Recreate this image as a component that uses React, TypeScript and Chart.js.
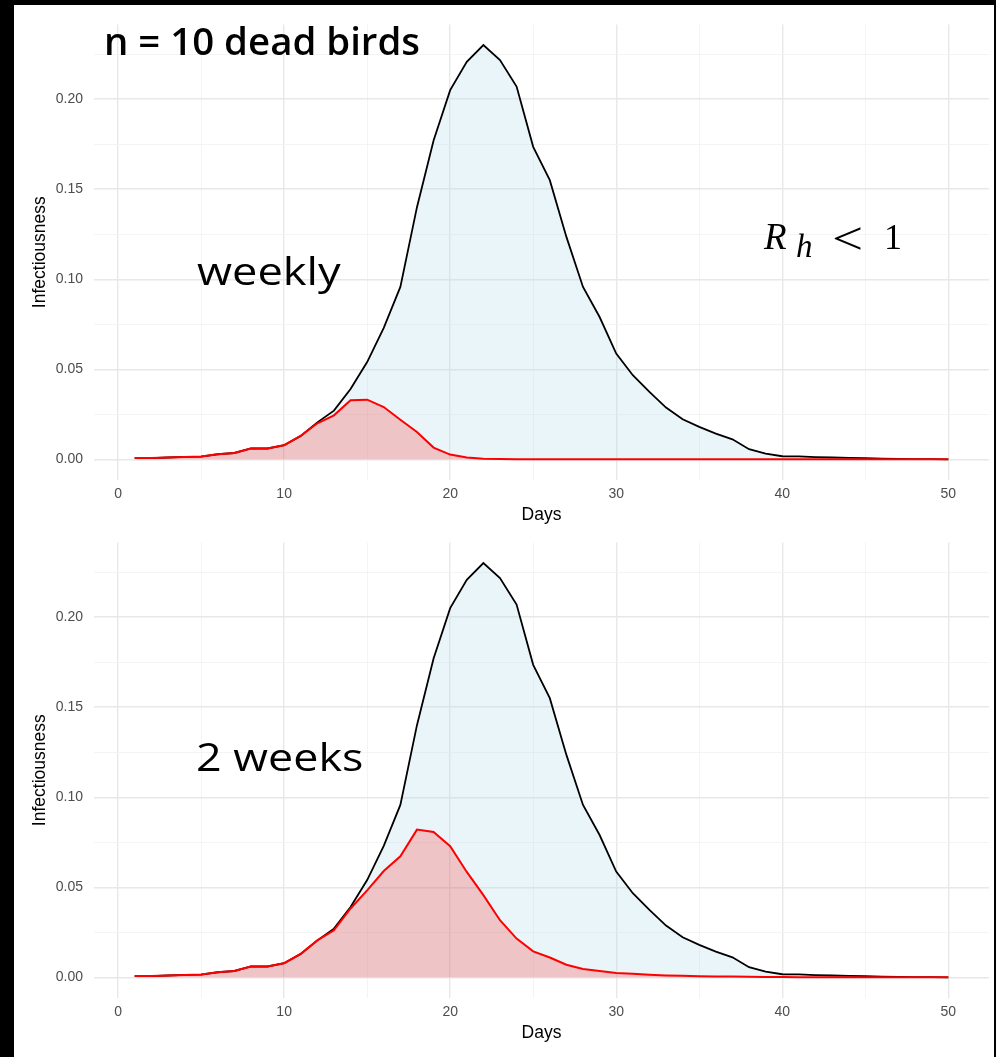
import React, { useEffect, useRef } from "react";
import { Chart, registerables } from "chart.js";

Chart.register(...registerables);

// ---------- data ----------
const days = [
  1, 2, 3, 4, 5, 6, 7, 8, 9, 10, 11, 12, 13, 14, 15, 16, 17, 18, 19, 20, 21, 22, 23, 24, 25,
  26, 27, 28, 29, 30, 31, 32, 33, 34, 35, 36, 37, 38, 39, 40, 41, 42, 43, 44, 45, 46, 47, 48, 49, 50,
];

const totalInfectiousness = [
  0.0007, 0.0007, 0.001, 0.0013, 0.0015, 0.0028, 0.0035, 0.006, 0.006, 0.0078,
  0.013, 0.0205, 0.027, 0.039, 0.054, 0.073, 0.0957, 0.14, 0.177, 0.205,
  0.2207, 0.23, 0.2217, 0.207, 0.1735, 0.155, 0.1235, 0.0957, 0.079, 0.0587,
  0.0467, 0.0374, 0.0287, 0.0222, 0.018, 0.0143, 0.0111, 0.0056, 0.0031, 0.0017,
  0.0016, 0.0012, 0.001, 0.0008, 0.0006, 0.0003, 0.0002, 0.0001, 0.0001, 0,
];

const weeklyDetected = [
  0.0007, 0.0007, 0.001, 0.0013, 0.0015, 0.0028, 0.0035, 0.006, 0.006, 0.0078,
  0.013, 0.02, 0.0244, 0.0328, 0.0331, 0.029, 0.022, 0.0152, 0.0065, 0.0026,
  0.001, 0.0003, 0.0001, 0, 0, 0, 0, 0, 0, 0,
  0, 0, 0, 0, 0, 0, 0, 0, 0, 0,
  0, 0, 0, 0, 0, 0, 0, 0, 0, 0,
];

const twoWeeksDetected = [
  0.0007, 0.0007, 0.001, 0.0013, 0.0015, 0.0028, 0.0035, 0.006, 0.006, 0.0078,
  0.013, 0.0205, 0.0261, 0.0382, 0.0483, 0.059, 0.0672, 0.082, 0.0807, 0.0728,
  0.0585, 0.0456, 0.0317, 0.0215, 0.0144, 0.011, 0.007, 0.0046, 0.0035, 0.0024,
  0.0019, 0.0014, 0.001, 0.0008, 0.0006, 0.0005, 0.0004, 0.0003, 0.0002, 0.0001,
  0, 0, 0, 0, 0, 0, 0, 0, 0, 0,
];

const xTickValues = [0, 5, 10, 15, 20, 25, 30, 35, 40, 45, 50];
const xLabelValues = [0, 10, 20, 30, 40, 50];
const yTickValues = [0, 0.025, 0.05, 0.075, 0.1, 0.125, 0.15, 0.175, 0.2, 0.225];
const yLabelValues = [0, 0.05, 0.1, 0.15, 0.2];

const titleText = "n = 10 dead birds";
const topPanelLabel = "weekly";
const bottomPanelLabel = "2 weeks";

// ---------- styling ----------
const MAJOR_GRID = "#e8e8e8";
const MINOR_GRID = "#f1f1f1";
const TICK_COLOR = "#4d4d4d";
const CANVAS_W = 980;
const CANVAS_H = 530;

const isLabel = (list: number[], v: number) => list.some((t) => Math.abs(t - v) < 1e-9);

function makeConfig(detected: number[]): any {
  return {
    type: "line",
    data: {
      datasets: [
        {
          data: days.map((d, i) => ({ x: d, y: detected[i] })),
          borderColor: "#ff0000",
          backgroundColor: "rgba(255,0,0,0.2)",
          fill: "origin",
          borderWidth: 2,
          pointRadius: 0,
          tension: 0,
        },
        {
          data: days.map((d, i) => ({ x: d, y: totalInfectiousness[i] })),
          borderColor: "#000000",
          backgroundColor: "rgba(173,216,230,0.25)",
          fill: "origin",
          borderWidth: 1.8,
          pointRadius: 0,
          tension: 0,
        },
      ],
    },
    options: {
      animation: false,
      responsive: false,
      devicePixelRatio: 1,
      events: [],
      layout: { padding: { top: 19, right: 5, left: 0, bottom: 0 } },
      plugins: { legend: { display: false }, tooltip: { enabled: false } },
      scales: {
        x: {
          type: "linear",
          min: -1.45,
          max: 52.45,
          afterBuildTicks: (s: any) => {
            s.ticks = xTickValues.map((v) => ({ value: v }));
          },
          afterFit: (s: any) => {
            s.height = 55;
          },
          border: { display: false },
          grid: {
            drawTicks: false,
            color: (c: any) => (c.tick && isLabel(xLabelValues, c.tick.value) ? MAJOR_GRID : MINOR_GRID),
            lineWidth: (c: any) => (c.tick && isLabel(xLabelValues, c.tick.value) ? 1.4 : 0.8),
          },
          ticks: {
            autoSkip: false,
            maxRotation: 0,
            padding: 6,
            color: TICK_COLOR,
            font: { family: '"Liberation Sans", Arial, sans-serif', size: 14 },
            callback: (v: number) => (isLabel(xLabelValues, v) ? String(v) : ""),
          },
          title: {
            display: true,
            text: "Days",
            color: "#000000",
            font: { family: '"Liberation Sans", Arial, sans-serif', size: 17.5 },
            padding: { top: 0, bottom: 9.5 },
          },
        },
        y: {
          type: "linear",
          min: -0.0115,
          max: 0.2415,
          afterBuildTicks: (s: any) => {
            s.ticks = yTickValues.map((v) => ({ value: v }));
          },
          afterFit: (s: any) => {
            s.width = 80;
          },
          border: { display: false },
          grid: {
            drawTicks: false,
            color: (c: any) => (c.tick && isLabel(yLabelValues, c.tick.value) ? MAJOR_GRID : MINOR_GRID),
            lineWidth: (c: any) => (c.tick && isLabel(yLabelValues, c.tick.value) ? 1.4 : 0.8),
          },
          ticks: {
            padding: 11,
            color: TICK_COLOR,
            font: { family: '"Liberation Sans", Arial, sans-serif', size: 14 },
            callback: (v: number) => (isLabel(yLabelValues, v) ? v.toFixed(2) : ""),
          },
          title: {
            display: true,
            text: "Infectiousness",
            color: "#000000",
            font: { family: '"Liberation Sans", Arial, sans-serif', size: 17.5 },
            padding: { top: 15.5, bottom: 0 },
          },
        },
      },
    },
  };
}

function Panel({ detected, top }: { detected: number[]; top: number }) {
  const ref = useRef<HTMLCanvasElement>(null);
  useEffect(() => {
    const chart = new Chart(ref.current as HTMLCanvasElement, makeConfig(detected));
    return () => chart.destroy();
  }, [detected]);
  return (
    <canvas
      ref={ref}
      width={CANVAS_W}
      height={CANVAS_H}
      style={{ position: "absolute", left: 14, top, width: CANVAS_W, height: CANVAS_H }}
    />
  );
}

// text placed by baseline
const SANS_BASE = 0.888; // Open Sans baseline offset at line-height 1
const SERIF_BASE = 0.8374; // Liberation Serif baseline offset at line-height 1

function Label({
  x,
  baseline,
  size,
  family,
  weight = 400,
  italic = false,
  base,
  stretch = 1,
  children,
}: any) {
  return (
    <div
      style={{
        position: "absolute",
        left: x,
        top: baseline - base * size,
        fontSize: size,
        lineHeight: `${size}px`,
        fontFamily: family,
        fontWeight: weight,
        fontStyle: italic ? "italic" : "normal",
        color: "#000",
        whiteSpace: "nowrap",
        transform: stretch !== 1 ? `scaleX(${stretch})` : undefined,
        transformOrigin: "left center",
      }}
    >
      {children}
    </div>
  );
}

export default function App() {
  const sans = '"Open Sans", "Noto Sans", sans-serif';
  const serif = '"Liberation Serif", "DejaVu Serif", serif';
  return (
    <div
      style={{
        position: "absolute",
        left: 0,
        top: 0,
        width: 996,
        height: 1057,
        background: "#000",
        overflow: "hidden",
      }}
    >
      <div style={{ position: "absolute", left: 14, top: 5, width: 980, height: 1052, background: "#fff" }} />
      <Panel detected={weeklyDetected} top={5} />
      <Panel detected={twoWeeksDetected} top={523} />
      <Label x={104} baseline={55} size={38} family={sans} weight={600} base={SANS_BASE} stretch={1.01}>
        {titleText}
      </Label>
      <Label x={197} baseline={285} size={38} family={sans} base={SANS_BASE} stretch={1.19}>
        {topPanelLabel}
      </Label>
      <Label x={196} baseline={771} size={38} family={sans} base={SANS_BASE} stretch={1.18}>
        {bottomPanelLabel}
      </Label>
      <Label x={764} baseline={249} size={37} family={serif} italic base={SERIF_BASE}>
        R
      </Label>
      <Label x={796} baseline={258} size={33} family={serif} italic base={SERIF_BASE}>
        h
      </Label>
      <Label x={832} baseline={255} size={46} family={serif} base={SERIF_BASE} stretch={1.2}>
        {"<"}
      </Label>
      <Label x={884} baseline={249} size={36} family={serif} base={SERIF_BASE}>
        1
      </Label>
    </div>
  );
}
